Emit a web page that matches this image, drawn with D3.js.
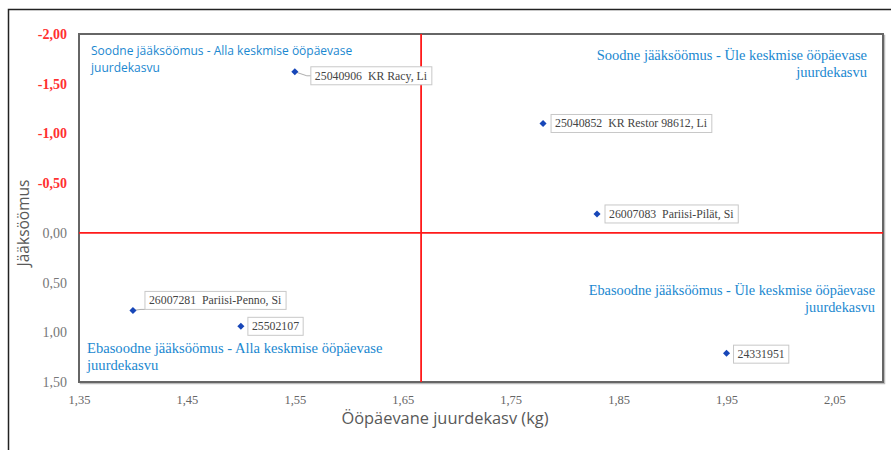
<!DOCTYPE html>
<html>
<head>
<meta charset="utf-8">
<script src="https://cdn.jsdelivr.net/npm/d3@7"></script>
<style>
  body { margin: 0; background: #fff; }
  svg { display: block; }
  .serif { font-family: "Liberation Serif", "Times New Roman", "DejaVu Serif", serif; }
  .sans { font-family: "Open Sans", "Noto Sans", sans-serif; }
</style>
</head>
<body>
<svg></svg>
<script>
let width = 891
let height = 450

// data
let farmIds = ['25040906', '25040852', '26007083', '26007281', '25502107', '24331951']
let farmNames = ['KR Racy, Li', 'KR Restor 98612, Li', 'Pariisi-Pilät, Si', 'Pariisi-Penno, Si', '', '']
let dailyGain = [1.55, 1.78, 1.83, 1.40, 1.50, 1.95]
let residualIntake = [-1.62, -1.10, -0.19, 0.78, 0.94, 1.21]
let meanGain = 1.667
let xTicks = [1.35, 1.45, 1.55, 1.65, 1.75, 1.85, 1.95, 2.05]
let yTicks = [-2.0, -1.5, -1.0, -0.5, 0.0, 0.5, 1.0, 1.5]
let quadrantTexts = [
    ['Soodne jääksöömus - Alla keskmise ööpäevase', 'juurdekasvu'],
    ['Soodne jääksöömus - Üle keskmise ööpäevase', 'juurdekasvu'],
    ['Ebasoodne jääksöömus - Alla keskmise ööpäevase', 'juurdekasvu'],
    ['Ebasoodne jääksöömus - Üle keskmise ööpäevase', 'juurdekasvu']
]

// label box offsets from the point (px)
let labelOffset = [[16, 4], [8, 0], [8, 0], [12, -10], [7, 0], [7, 1]]
let quadrantPlace = [
    {x: 91, y: 55, anchor: 'start', cls: 'sans', size: 12},
    {x: 867, y: 60, anchor: 'end', cls: 'serif', size: 14.5},
    {x: 87, y: 353, anchor: 'start', cls: 'serif', size: 14.6},
    {x: 875, y: 295, anchor: 'end', cls: 'serif', size: 14.3}
]

let points = farmIds.map((id, i) => ({
    label: farmNames[i] ? `${id}  ${farmNames[i]}` : id,
    x: dailyGain[i],
    y: residualIntake[i],
    off: labelOffset[i]
}))

let locale = d3.formatLocale({decimal: ',', thousands: ' ', grouping: [3], currency: ['', ''], minus: '-'})
let fmt = locale.format('.2f')

let svg = d3.select('svg')
    .attr('width', width)
    .attr('height', height)

let plot = {left: 79, right: 883, top: 34, bottom: 382}

// outer frame (cropped at right and bottom)
svg.append('rect')
    .attr('x', 8.5).attr('y', 9.5)
    .attr('width', 1000).attr('height', 1000)
    .attr('fill', 'none')
    .attr('stroke', '#222')
    .attr('stroke-width', 1.5)

let xScale = d3.scaleLinear()
    .domain([1.35, 2.095])
    .range([plot.left, plot.right])
let yScale = d3.scaleLinear()
    .domain([-2, 1.5])
    .range([plot.top, plot.bottom])

// plot area border with a slight shadow
svg.append('rect')
    .attr('x', plot.left + 1.5).attr('y', plot.top + 1.5)
    .attr('width', plot.right - plot.left).attr('height', plot.bottom - plot.top)
    .attr('fill', 'none')
    .attr('stroke', '#bbb')
    .attr('stroke-width', 1.5)
svg.append('rect')
    .attr('x', plot.left).attr('y', plot.top)
    .attr('width', plot.right - plot.left).attr('height', plot.bottom - plot.top)
    .attr('fill', '#fff')
    .attr('stroke', '#666')
    .attr('stroke-width', 2)

// axes
let xAxis = svg.append('g')
    .attr('transform', `translate(0,${plot.bottom})`)
    .call(d3.axisBottom(xScale).tickValues(xTicks).tickFormat(fmt).tickSize(0).tickPadding(13))
xAxis.attr('font-family', null)
xAxis.select('.domain').remove()
xAxis.selectAll('text')
    .attr('class', 'serif')
    .style('font-size', '12.5px')
    .attr('fill', '#666')

let yAxis = svg.append('g')
    .attr('transform', `translate(${plot.left},0)`)
    .call(d3.axisLeft(yScale).tickValues(yTicks).tickFormat(fmt).tickSize(0).tickPadding(12))
yAxis.attr('font-family', null)
yAxis.select('.domain').remove()
yAxis.selectAll('text')
    .attr('class', 'serif')
    .style('font-size', '14px')
    .attr('fill', d => d < 0 ? '#ff3030' : '#777')
    .style('font-weight', d => d < 0 ? 'bold' : 'normal')

// axis titles
svg.append('text')
    .attr('class', 'sans')
    .attr('x', 445).attr('y', 424)
    .attr('text-anchor', 'middle')
    .style('font-size', '16.4px')
    .attr('fill', '#595959')
    .text('Ööpäevane juurdekasv (kg)')
svg.append('text')
    .attr('class', 'sans')
    .attr('transform', 'translate(29,223) rotate(-90)')
    .attr('text-anchor', 'middle')
    .style('font-size', '15.5px')
    .attr('fill', '#595959')
    .text('Jääksöömus')

// quadrant dividers
svg.append('line')
    .attr('x1', xScale(meanGain)).attr('x2', xScale(meanGain))
    .attr('y1', plot.top).attr('y2', plot.bottom)
    .attr('stroke', '#ff1a1a').attr('stroke-width', 1.8)
svg.append('line')
    .attr('x1', plot.left).attr('x2', plot.right)
    .attr('y1', yScale(0)).attr('y2', yScale(0))
    .attr('stroke', '#ff1a1a').attr('stroke-width', 1.8)

// quadrant captions
quadrantTexts.forEach((lines, i) => {
    let p = quadrantPlace[i]
    let t = svg.append('text')
        .attr('class', p.cls)
        .attr('text-anchor', p.anchor)
        .style('font-size', p.size + 'px')
        .attr('fill', '#1b88d0')
    lines.forEach((line, j) => {
        t.append('tspan')
            .attr('x', p.x)
            .attr('y', p.y + j * 17)
            .text(line)
    })
})

// points with label boxes
let pointGroup = svg.append('g')
let labelEnter = pointGroup.selectAll('g')
    .data(points).enter()
    .append('g')

labelEnter.each(function (d) {
    let g = d3.select(this)
    let px = xScale(d.x)
    let py = yScale(d.y)
    let bx = px + d.off[0]
    let by = py + d.off[1]
    let text = g.append('text')
        .attr('class', 'serif')
        .attr('x', bx + 4)
        .attr('y', by + 4)
        .style('font-size', '11.8px')
        .attr('fill', '#444')
        .attr('xml:space', 'preserve')
        .text(d.label)
    let box = text.node().getBBox()
    g.insert('rect', 'text')
        .attr('x', bx).attr('y', box.y - 2)
        .attr('width', box.width + 8).attr('height', box.height + 4)
        .attr('fill', '#fff')
        .attr('stroke', '#c8c8c8')
        .attr('stroke-width', 1)
    if (Math.abs(d.off[1]) > 2 || d.off[0] > 12) {
        let ty = d.off[1] < 0 ? box.y + box.height + 2 : by
        g.insert('polyline', 'rect')
            .attr('points', `${px},${py} ${bx - 4},${ty} ${bx},${ty}`)
            .attr('fill', 'none')
            .attr('stroke', '#999')
            .attr('stroke-width', 0.8)
    }
    g.append('rect')
        .attr('x', -2.5).attr('y', -2.5)
        .attr('width', 5).attr('height', 5)
        .attr('transform', `translate(${px},${py}) rotate(45)`)
        .attr('fill', '#1746b8')
})
</script>
</body>
</html>
